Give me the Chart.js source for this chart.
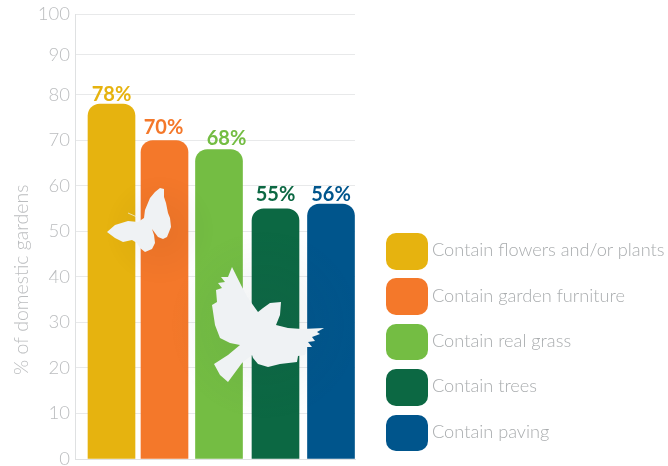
<!DOCTYPE html>
<html><head><meta charset="utf-8">
<style>
html,body{margin:0;padding:0;background:#fff;width:668px;height:466px;overflow:hidden}
#wrap{position:relative;width:668px;height:466px}
canvas{position:absolute;left:0;top:0}
#deco{position:absolute;left:0;top:0;pointer-events:none}
#legend{position:absolute;left:386px;top:233px;font:300 18.2px Lato,sans-serif;color:#a9acae}
.row{display:flex;align-items:center;height:36.5px;margin-bottom:8.9px;white-space:nowrap}
.row span:last-child{position:relative;top:-2px}
.sw{width:42px;height:36.5px;border-radius:10px;margin-right:4px;flex:none}
</style>
<script src="https://cdn.jsdelivr.net/npm/chart.js@4"></script>
</head><body><div id="wrap">
<canvas id="c" width="668" height="466"></canvas>
<svg id="deco" width="668" height="466" viewBox="0 0 668 466">
<defs>
<radialGradient id="g1"><stop offset="0" stop-color="#000" stop-opacity=".05"/><stop offset="1" stop-color="#000" stop-opacity="0"/></radialGradient>
<radialGradient id="g2"><stop offset="0" stop-color="#2a4a55" stop-opacity=".08"/><stop offset="1" stop-color="#2a4a55" stop-opacity="0"/></radialGradient>
</defs>
<circle cx="160" cy="230" r="55" fill="url(#g1)"/>
<circle cx="265" cy="325" r="95" fill="url(#g2)"/>
<g fill="#eff2f4">
<path d="M160 188 L164 189 L164 197 L166 203 L168 213 L170 218 L171 227 L167 237 L163 239 L158 237 L152 229 L154 235 L155 243 L152 249 L145 252 L140 248 L137 243 L132 240 L123 242 L115 238 L107 232 L115 225 L128 221 L138 222 L144 218 L145 210 L150 198 L155 192 Z"/>
<path d="M128 213 L137 217" stroke="#eff2f4" stroke-width="1" fill="none" opacity=".7"/>
<path d="M232 267 L235 273 L242 287 L248 298 L258 312 L263 308 L270 303 L281 302 L280 315 L276 325 L288 328 L302 329 L324 328 L317 332 L320 334 L312 337 L315 341 L308 342 L312 347 L307 347 L305 355 L298 356 L297 362 L280 364 L268 367 L258 364 L253 358 L252 355 L242 363 L228 382 L220 375 L214 364 L228 355 L240 345 L230 343 L220 338 L215 325 L212 305 L217 302 L216 290 L222 288 L218 283 L225 282 L221 277 L228 277 Z"/>
</g></svg>
<div id="legend"></div>
</div>
<script>
const categories=["Contain flowers and/or plants","Contain garden furniture","Contain real grass","Contain trees","Contain paving"];
const values=[78,70,68,55,56];
const colors=["#e6b30f","#f4782a","#74bd43","#0c6843","#00558c"];
const yTicks=[0,10,20,30,40,50,60,70,80,90,100];
const yTitle="% of domestic gardens";
const barNudge=[8.5,5.5,4,4.5,4];
const labelNudgeX=[0,-1,7.5,0,0];
const labelNudgeY=[0,-3,-2,-5,0];
const titleShift=86;
const kneeValue=80, kneeFraction=0.819;
const grey="#bbbdbf";
const FONT='Lato,sans-serif';

// the reference's value axis is compressed above 80
class KneeScale extends Chart.LinearScale{
 getPixelForValue(v){
  const f=v<=kneeValue? v/kneeValue*kneeFraction : kneeFraction+(v-kneeValue)/(100-kneeValue)*(1-kneeFraction);
  return this.bottom-f*(this.bottom-this.top);
 }
 drawTitle(){
  const b=this.bottom;this.bottom=b+titleShift;super.drawTitle();this.bottom=b;
 }
}
KneeScale.id='knee';KneeScale.defaults=Chart.LinearScale.defaults;
Chart.register(KneeScale);

document.getElementById('legend').innerHTML=categories.map((t,i)=>
 `<div class="row"><span class="sw" style="background:${colors[i]}"></span><span>${t}</span></div>`).join('');

const barPlacement={id:'barPlacement',
 afterDatasetsUpdate(ch){ch.getDatasetMeta(0).data.forEach((b,i)=>{b.x+=barNudge[i];});},
 afterDatasetsDraw(ch){
 const m=ch.getDatasetMeta(0),x=ch.ctx;
 x.save();x.textAlign='center';x.textBaseline='alphabetic';x.font='700 20px '+FONT;
 m.data.forEach((b,i)=>{x.fillStyle=colors[i];x.fillText(values[i]+'%',b.x+labelNudgeX[i],b.y-3+labelNudgeY[i]);});
 x.restore();
}};
new Chart(document.getElementById('c'),{
 type:'bar',
 data:{labels:categories,datasets:[{data:values,backgroundColor:colors,borderWidth:0,
   borderRadius:{topLeft:12,topRight:12,bottomLeft:0,bottomRight:0},borderSkipped:false,
   barThickness:47}]},
 options:{responsive:false,animation:false,
  layout:{padding:{left:0,right:313,top:14.5,bottom:7}},
  plugins:{legend:{display:false},tooltip:{enabled:false}},
  scales:{
   x:{offset:true,ticks:{display:false},grid:{display:false},border:{color:'#dfe1e2'},afterFit(s){s.height=0;s.paddingLeft=0;s.paddingRight=0;}},
   y:{type:'knee',min:0,max:100,
     afterTickToLabelConversion(s){s.ticks=yTicks.map(v=>({value:v,label:String(v)}));},
     afterFit(s){s.width=75;s.paddingTop=0;s.paddingBottom=0;},
     ticks:{color:grey,font:{family:FONT,size:18.5,weight:'300'},padding:5},
     grid:{color:'#e8e9ea',drawTicks:false},border:{color:'#dfe1e2'},
     title:{display:true,text:yTitle,color:grey,font:{family:FONT,size:19.5,weight:'300'},padding:{top:10,bottom:0}}}
  }
 },plugins:[barPlacement]});
</script></body></html>
